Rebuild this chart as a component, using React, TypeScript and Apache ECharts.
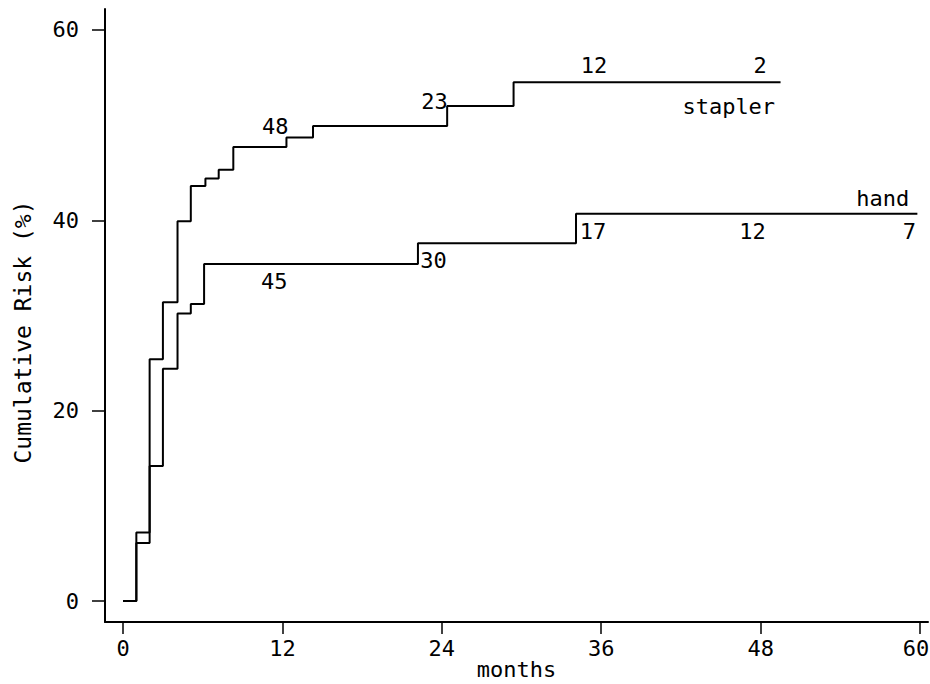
import React, { useEffect, useRef } from "react";
import * as echarts from "echarts";

// ---- data ----
const staplerMonths = [0, 1, 2, 3, 4.1, 5.1, 6.2, 7.2, 8.3, 12.3, 14.3, 24.4, 29.4, 49.5];
const staplerRisk = [0, 6.1, 25.4, 31.4, 39.9, 43.6, 44.4, 45.3, 47.7, 48.7, 49.9, 52.0, 54.5, 54.5];

const handMonths = [0, 1, 2, 3, 4.1, 5.1, 6.1, 22.2, 34.1, 59.8];
const handRisk = [0, 7.2, 14.2, 24.4, 30.2, 31.2, 35.4, 37.6, 40.7, 40.7];

// numbers at risk
const staplerAtRiskMonths = [12, 24, 36, 48];
const staplerAtRisk = [48, 23, 12, 2];
const staplerAtRiskLabelY = [49.9, 52.5, 56.3, 56.3];

const handAtRiskMonths = [12, 24, 36, 48, 60];
const handAtRisk = [45, 30, 17, 12, 7];
const handAtRiskLabelY = [33.6, 35.8, 38.8, 38.8, 38.8];

// curve names
const curveNames = ["stapler", "hand"];
const curveNameMonths = [45.6, 57.2];
const curveNameY = [52.0, 42.3];

const xTicks = [0, 12, 24, 36, 48, 60];
const yTicks = [0, 20, 40, 60];

const FONT = "DejaVu Sans Mono";

export default function App() {
  const ref = useRef<HTMLDivElement>(null);

  useEffect(() => {
    if (!ref.current) return;
    document.body.style.margin = "0";
    const chart = echarts.init(ref.current, null, { renderer: "svg", width: 930, height: 684 });

    const zip = (xs: number[], ys: number[]) => xs.map((x, i) => [x, ys[i]]);
    const lineStyle = { color: "#000", width: 2 };
    const txt = { color: "#000", fontSize: 22, fontFamily: FONT };
    const lastTick = xTicks[xTicks.length - 1];

    const labelSeries = (name: string, xs: number[], ys: number[], vals: (number | string)[], align: string, dx: number) => ({
      name,
      type: "scatter",
      silent: true,
      symbol: "circle",
      symbolSize: 0,
      itemStyle: { color: "#000", opacity: 1 },
      data: xs.map((x, i) => ({
        value: [x, ys[i]],
        name: String(vals[i]),
        ...(x === lastTick && align === "right" ? { label: { offset: [-4, 0] } } : {}),
      })),
      label: {
        show: true,
        position: "inside",
        formatter: "{b}",
        align,
        verticalAlign: "middle",
        offset: [dx, 0],
        textBorderWidth: 0,
        ...txt,
      },
      z: 5,
    });

    const option: any = {
      animation: false,
      backgroundColor: "#fff",
      grid: { left: 105, right: 2, top: 9, bottom: 62, containLabel: false, outerBoundsMode: "none" },
      xAxis: {
        type: "value",
        min: -1.36,
        max: 60.6,
        splitLine: { show: false },
        axisLine: { show: true, onZero: false, lineStyle: { color: "#000", width: 2 } },
        axisTick: { show: true, length: 12, customValues: xTicks, lineStyle: { color: "#000", width: 1.5 } },
        axisLabel: {
          customValues: xTicks,
          margin: 15,
          ...txt,
          formatter: (v: number) => (v === lastTick ? `{r|${v}}` : String(v)),
          rich: { r: { ...txt, padding: [0, 8, 0, 0] } },
        },
        name: "months",
        nameLocation: "middle",
        nameGap: 36,
        nameMoveOverlap: false,
        nameTextStyle: { ...txt, lineHeight: 22 },
      },
      yAxis: {
        type: "value",
        min: -2.2,
        max: 62.2,
        splitLine: { show: false },
        axisLine: { show: true, onZero: false, lineStyle: { color: "#000", width: 2 } },
        axisTick: { show: true, length: 13, customValues: yTicks, lineStyle: { color: "#000", width: 1.5 } },
        axisLabel: { customValues: yTicks, margin: 26, ...txt },
      },
      graphic: [
        {
          type: "text",
          x: 23,
          y: 332,
          rotation: Math.PI / 2,
          style: {
            text: "Cumulative Risk (%)",
            fill: "#000",
            fontSize: 23,
            fontFamily: FONT,
            align: "center",
            verticalAlign: "middle",
          },
        },
      ],
      series: [
        {
          name: "stapler",
          type: "line",
          step: "end",
          showSymbol: false,
          symbol: "none",
          lineStyle,
          data: zip(staplerMonths, staplerRisk),
        },
        {
          name: "hand",
          type: "line",
          step: "end",
          showSymbol: false,
          symbol: "none",
          lineStyle,
          data: zip(handMonths, handRisk),
        },
        labelSeries("stapler at risk", staplerAtRiskMonths, staplerAtRiskLabelY, staplerAtRisk, "right", 6),
        labelSeries("hand at risk", handAtRiskMonths, handAtRiskLabelY, handAtRisk, "right", 5),
        labelSeries("names", curveNameMonths, curveNameY, curveNames, "center", 0),
      ],
    };

    chart.setOption(option);
    return () => chart.dispose();
  }, []);

  return (
    <div
      ref={ref}
      style={{ position: "fixed", left: 0, top: 0, width: 930, height: 684, background: "#fff" }}
    />
  );
}
